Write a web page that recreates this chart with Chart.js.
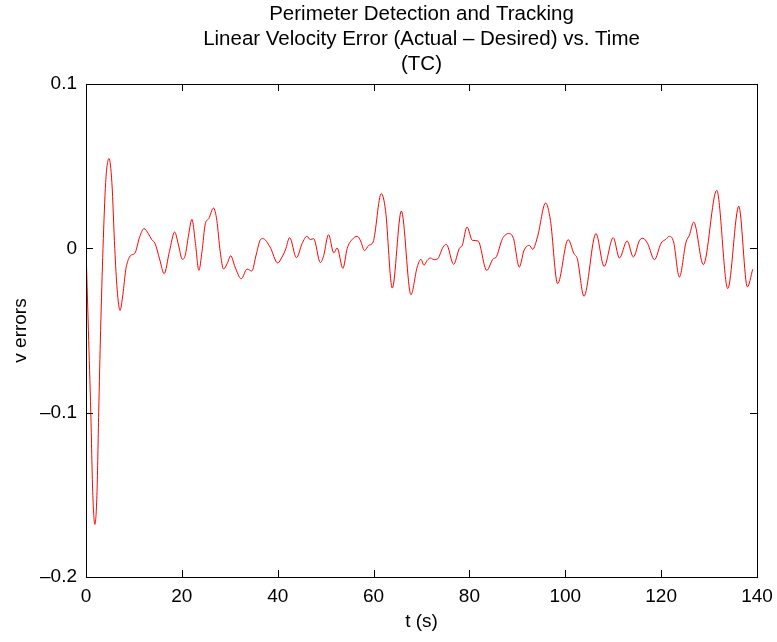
<!DOCTYPE html>
<html>
<head>
<meta charset="utf-8">
<title>Perimeter Detection and Tracking</title>
<script src="https://cdn.jsdelivr.net/npm/chart.js@4/dist/chart.umd.min.js"></script>
<style>
  html, body { margin: 0; padding: 0; background: #fff; }
  #plot { display: block; }
</style>
</head>
<body>
<canvas id="plot" width="777" height="642"></canvas>
<script>
const titleLines = [
  'Perimeter Detection and Tracking',
  'Linear Velocity Error (Actual \u2013 Desired) vs. Time',
  '(TC)'
];

const xTicks = [0, 20, 40, 60, 80, 100, 120, 140];
const yTicks = [-0.2, -0.1, 0, 0.1];

// time samples (s)
const times = [
  0, 0.5, 1.0, 1.4, 1.85, 2.3, 2.65, 3.05, 3.55, 4.1,
  4.8, 5.4, 6.0, 6.5, 7.1, 7.7, 8.3, 8.9, 9.5, 10.2,
  11.2, 12.1, 13.0, 13.7, 14.4, 15.4, 16.3, 17.4, 18.5, 19.3,
  20.1, 20.7, 21.4, 22.1, 22.8, 23.55, 24.2, 24.9, 25.6, 26.6,
  27.3, 28.0, 28.7, 29.5, 30.2, 31.1, 32.4, 33.6, 34.6, 35.5,
  36.4, 36.9, 38.4, 40.0, 40.9, 41.6, 42.5, 43.9, 45.1, 46.1,
  46.8, 47.5, 48.9, 49.6, 50.6, 51.7, 52.4, 53.6, 54.5, 55.5,
  56.6, 57.3, 58.1, 59.0, 59.9, 61.6, 62.5, 63.9, 65.8, 67.8,
  69.1, 69.9, 70.5, 71.2, 71.9, 72.6, 73.4, 74.5, 75.2, 76.7,
  77.9, 78.5, 79.5, 80.6, 81.8, 83.6, 85.0, 85.5, 86.9, 88.2,
  89.2, 90.4, 91.4, 92.5, 93.2, 94.2, 95.9, 96.9, 98.4, 100.6,
  101.8, 102.5, 103.9, 106.4, 108.1, 110.0, 111.3, 112.9, 114.2, 115.5,
  116.2, 117.2, 118.6, 120.0, 121.0, 121.7, 122.6, 123.8, 125.2, 125.9,
  126.8, 128.8, 131.6, 133.9, 136.2, 138.0, 139.1
];

// linear velocity error (actual - desired)
const vErrors = [
  0, -0.05, -0.10, -0.148, -0.168, -0.148, -0.10, -0.05, 0, 0.04,
  0.0546, 0.04, 0, -0.025, -0.0377, -0.028, -0.013, -0.0063, -0.004, -0.003,
  0.007, 0.012, 0.009, 0.0053, 0.003, -0.007, -0.0154, -0.002, 0.0099, 0.002,
  -0.0067, -0.0043, 0.008, 0.0176, 0.004, -0.0134, -0.002, 0.015, 0.018, 0.0245,
  0.017, -0.002, -0.0126, -0.009, -0.0045, -0.0114, -0.0185, -0.0126, -0.0138, -0.004,
  0.0053, 0.0059, 0.0008, -0.0089, -0.0053, -0.001, 0.0065, -0.0057, 0.003, 0.0073,
  0.0053, 0.0059, -0.0087, -0.0043, 0.0083, -0.0028, 0.0002, -0.0122, 0, 0.0053,
  0.0073, 0.0045, -0.0014, 0.0018, 0.0038, 0.0333, 0.023, -0.0242, 0.0227, -0.0282,
  -0.0114, -0.0067, -0.0103, -0.0073, -0.0059, -0.0069, -0.0063, 0.0008, 0.0024, -0.0097,
  0, 0.0018, 0.013, 0.0049, 0.0045, -0.0134, -0.0063, -0.0057, 0.0059, 0.009,
  0.0059, -0.0114, -0.0012, 0.0018, -0.0006, 0.0069, 0.0276, 0.017, -0.0215, 0.0053,
  -0.0032, -0.0063, -0.0292, 0.009, -0.011, 0.0065, -0.0059, 0.0045, -0.0053, 0.0049,
  0.0061, 0.0028, -0.0069, 0.0032, 0.0055, 0.0073, 0.0039, -0.0175, 0.0039, 0.008,
  0.016, -0.0099, 0.0353, -0.0245, 0.0256, -0.0235, -0.0128
];

const FONT = 'Liberation Sans, Arial, Helvetica, sans-serif';

function fmt(v) {
  const s = String(Math.round(v * 10) / 10);
  return s.replace('-', '\u2013');
}

// box outline, inward tick marks on all four sides, and the three-line title
const matlabFrame = {
  id: 'matlabFrame',
  afterDraw(chart) {
    const { ctx, chartArea: a, scales } = chart;
    const len = 7;
    ctx.save();
    ctx.strokeStyle = '#000';
    ctx.lineWidth = 1;
    ctx.beginPath();
    xTicks.forEach((t) => {
      const px = Math.round(scales.x.getPixelForValue(t)) + 0.5;
      ctx.moveTo(px, a.bottom);
      ctx.lineTo(px, a.bottom - len);
      ctx.moveTo(px, a.top);
      ctx.lineTo(px, a.top + len);
    });
    yTicks.forEach((t) => {
      const py = Math.round(scales.y.getPixelForValue(t)) + 0.5;
      ctx.moveTo(a.left, py);
      ctx.lineTo(a.left + len, py);
      ctx.moveTo(a.right, py);
      ctx.lineTo(a.right - len, py);
    });
    ctx.stroke();
    ctx.strokeRect(Math.round(a.left) + 0.5, Math.round(a.top) + 0.5,
      Math.round(a.right - a.left), Math.round(a.bottom - a.top));

    ctx.fillStyle = '#000';
    ctx.font = '20.5px ' + FONT;
    ctx.textAlign = 'center';
    ctx.textBaseline = 'alphabetic';
    const cx = (a.left + a.right) / 2;
    titleLines.forEach((line, i) => {
      ctx.fillText(line, cx, 20 + i * 25);
    });
    ctx.restore();
  }
};

new Chart(document.getElementById('plot'), {
  type: 'line',
  data: {
    datasets: [
      {
        data: times.map((t, i) => ({ x: t, y: vErrors[i] })),
        borderColor: '#ff0000',
        borderWidth: 1,
        pointRadius: 0,
        fill: false,
        cubicInterpolationMode: 'monotone'
      }
    ]
  },
  options: {
    responsive: false,
    animation: false,
    events: [],
    layout: { padding: { top: 84, right: 20, left: 0, bottom: 0 } },
    plugins: {
      legend: { display: false },
      tooltip: { enabled: false }
    },
    scales: {
      x: {
        type: 'linear',
        min: 0,
        max: 140,
        afterFit(scale) {
          scale.height = 65;
          scale.paddingLeft = 0;
          scale.paddingRight = 0;
        },
        afterBuildTicks(scale) { scale.ticks = xTicks.map((v) => ({ value: v })); },
        grid: { display: false, drawTicks: false },
        border: { display: false },
        ticks: {
          color: '#000',
          padding: 8,
          maxRotation: 0,
          font: { family: FONT, size: 19 },
          callback: (v) => String(v)
        },
        title: {
          display: true,
          text: 't (s)',
          color: '#000',
          font: { family: FONT, size: 19 },
          padding: { top: 0, bottom: 9 }
        }
      },
      y: {
        type: 'linear',
        min: -0.2,
        max: 0.1,
        afterFit(scale) {
          scale.width = 86;
          scale.paddingTop = 0;
          scale.paddingBottom = 0;
        },
        afterBuildTicks(scale) { scale.ticks = yTicks.map((v) => ({ value: v })); },
        grid: { display: false, drawTicks: false },
        border: { display: false },
        ticks: {
          color: '#000',
          padding: 9,
          font: { family: FONT, size: 19 },
          callback: (v) => fmt(v)
        },
        title: {
          display: true,
          text: 'v errors',
          color: '#000',
          font: { family: FONT, size: 19 },
          padding: { top: 9, bottom: 0 }
        }
      }
    }
  },
  plugins: [matlabFrame]
});
</script>
</body>
</html>
